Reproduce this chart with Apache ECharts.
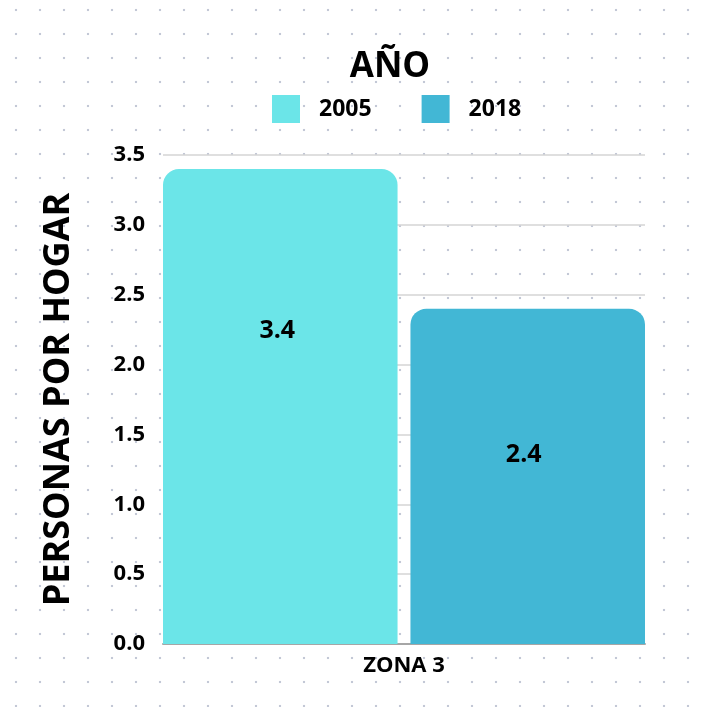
<!DOCTYPE html>
<html>
<head>
<meta charset="utf-8">
<script src="https://cdn.jsdelivr.net/npm/echarts@6/dist/echarts.min.js"></script>
<style>
html,body{margin:0;padding:0;background:#fff;}
#chart{width:703px;height:707px;
background-image:radial-gradient(circle, #c3c8d6 1.1px, rgba(255,255,255,0) 1.6px);
background-size:24px 24px;background-position:4px -2px;}
</style>
</head>
<body>
<div id="chart"></div>
<script>
var categories = ['ZONA 3'];
var seriesNames = ['2005', '2018'];
var values2005 = [3.4];
var values2018 = [2.4];
var yTicks = ['0.0','0.5','1.0','1.5','2.0','2.5','3.0','3.5'];

var FONT = '"Open Sans", sans-serif';
var chart = echarts.init(document.getElementById('chart'), null, {renderer:'canvas'});
chart.setOption({
  backgroundColor: 'transparent',
  animation: false,
  title: {
    text: 'AÑO', left: 385, textAlign: 'center', top: 45,
    textStyle: {fontFamily: FONT, fontWeight: 'bold', fontSize: 35, color: '#000'}
  },
  legend: {
    top: 90, left: 267, itemWidth: 28, itemHeight: 28, itemGap: 50,
    icon: 'rect',
    textStyle: {fontFamily: FONT, fontWeight: 'bold', fontSize: 23, color: '#000', padding: [0,0,0,14]},
    data: seriesNames
  },
  grid: {left: 163, right: 58, top: 155, bottom: 63},
  xAxis: {
    type: 'category', data: categories,
    axisLine: {lineStyle: {color: '#a6a6a6', width: 2}},
    axisTick: {show: false},
    axisLabel: {fontFamily: FONT, fontWeight: 'bold', fontSize: 22, color: '#000', margin: 11}
  },
  yAxis: {
    type: 'value', min: 0, max: 3.5, interval: 0.5,
    name: 'PERSONAS POR HOGAR', nameLocation: 'middle', nameGap: 86, nameRotate: 90,
    nameTextStyle: {fontFamily: FONT, fontWeight: 'bold', fontSize: 36, color: '#000'},
    axisLine: {show: false}, axisTick: {show: false},
    splitLine: {lineStyle: {color: '#d4d4d4', width: 1.5}},
    axisLabel: {fontFamily: FONT, fontWeight: 'bold', fontSize: 22, color: '#000', margin: 18,
      formatter: function(v){ return yTicks[Math.round(v/0.5)]; }}
  },
  series: [
    {name: seriesNames[0], type: 'bar', data: values2005, barGap: '5.5%', barCategoryGap: '0%',
     itemStyle: {color: '#6be5e8', borderRadius: [16,16,0,0]},
     label: {show: true, position: 'insideTop', distance: 149, offset: [-3, 0], fontFamily: FONT, fontWeight: 'bold', fontSize: 25, color: '#000',
       formatter: function(p){ return p.value.toFixed(1); }}},
    {name: seriesNames[1], type: 'bar', data: values2018, barGap: '5.5%', barCategoryGap: '0%',
     itemStyle: {color: '#42b7d5', borderRadius: [16,16,0,0]},
     label: {show: true, position: 'insideTop', distance: 134, offset: [-4, 0], fontFamily: FONT, fontWeight: 'bold', fontSize: 25, color: '#000',
       formatter: function(p){ return p.value.toFixed(1); }}}
  ]
});
</script>
</body>
</html>
